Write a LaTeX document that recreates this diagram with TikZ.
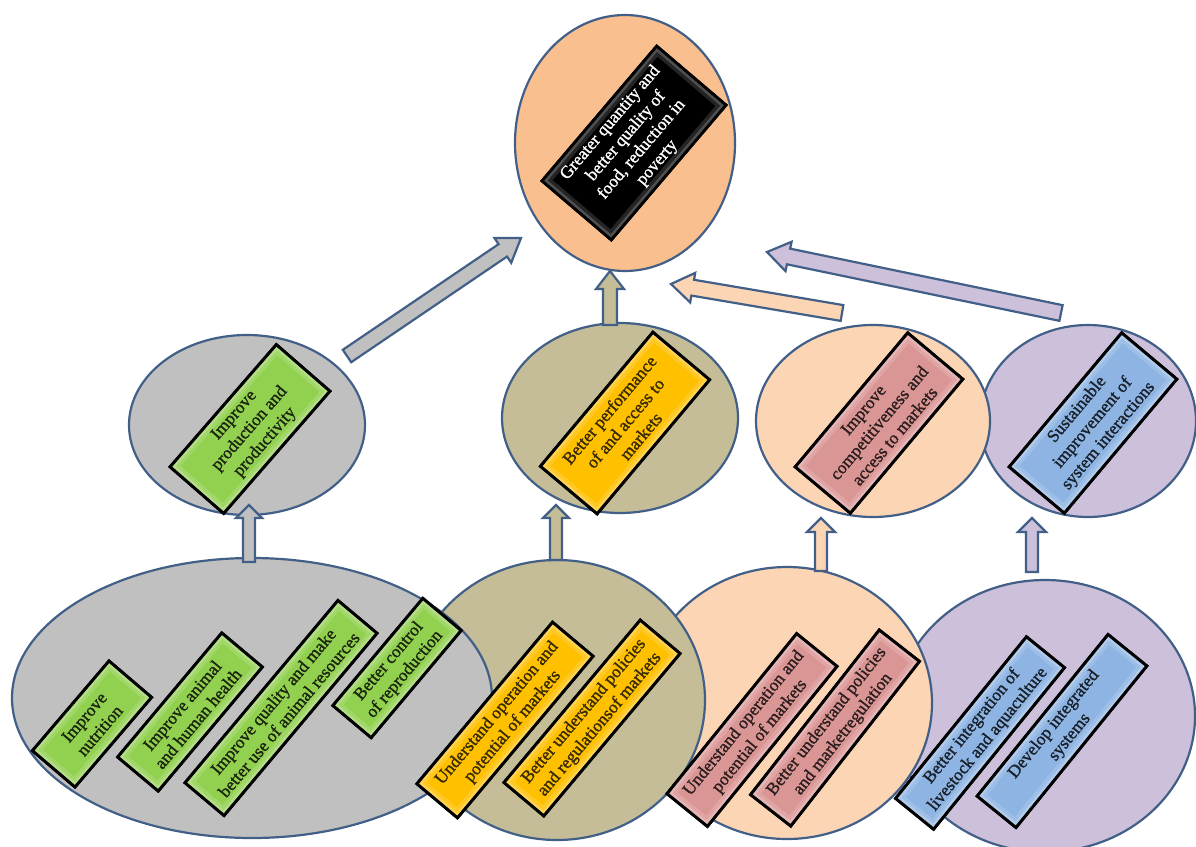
\documentclass[tikz,border=0pt]{standalone}
\usepackage{fontspec}
\setmainfont{Liberation Serif}
\newfontfamily\cardfont{Liberation Serif}[FakeBold=1.2]
\usetikzlibrary{shapes.geometric,calc}

\definecolor{edge}{RGB}{65,95,135}
\definecolor{greyfill}{RGB}{192,192,192}
\definecolor{khaki}{RGB}{196,189,151}
\definecolor{peachtop}{RGB}{250,191,143}
\definecolor{peach}{RGB}{252,213,181}
\definecolor{lav}{RGB}{204,192,218}
\definecolor{leaf}{RGB}{146,208,80}
\definecolor{gold}{RGB}{255,192,0}
\definecolor{rose}{RGB}{218,150,148}
\definecolor{sky}{RGB}{141,180,226}

% block arrow: #1 tail, #2 tip, #3 shaft half width, #4 head half width, #5 head length, #6 fill
\newcommand\blockarrow[6]{%
  \coordinate (hb) at ($(#2)!#5!(#1)$);
  \filldraw[flow, fill=#6]
    ($(#1)!#3!90:(#2)$) -- ($(hb)!#3!-90:(#1)$) -- ($(hb)!#4!-90:(#1)$) -- (#2)
    -- ($(hb)!#4!90:(#1)$) -- ($(hb)!#3!90:(#1)$) -- ($(#1)!#3!-90:(#2)$) -- cycle;
}

\begin{document}
\begin{tikzpicture}[x=1pt,y=-1pt,
  zone/.style={ellipse, draw=edge, line width=2.2pt, inner sep=0pt},
  card/.style={rectangle, draw=black, line width=2.8pt, inner sep=1pt, outer sep=0pt,
    align=center, font=\cardfont\fontsize{17.5}{20.5}\selectfont},
  leafcard/.style={card, fill=leaf, text=leaf!18!black},
  goldcard/.style={card, fill=gold, text=gold!22!black},
  rosecard/.style={card, fill=rose, text=rose!20!black},
  skycard/.style={card, fill=sky, text=sky!18!black},
  softbevel/.style={draw=white, line width=15pt, draw opacity=0.14},
  bevel/.style={draw=white, line width=8pt, draw opacity=0.2},
  rim/.style={draw=black, line width=2.8pt},
  flow/.style={draw=edge, line width=2.2pt, line join=miter}]
\useasboundingbox (0,0) rectangle (1196,846);

% lower row of fields, back to front
\node[zone, fill=lav, minimum width=300pt, minimum height=272pt] (bD) at (1045,716) {};
\node[zone, fill=peach, minimum width=290pt, minimum height=272pt] (bC) at (787,703) {};
\node[zone, fill=khaki, minimum width=296pt, minimum height=280pt] (bB) at (557,700) {};
\node[zone, fill=greyfill, minimum width=480pt, minimum height=280pt] (bA) at (252,698) {};

% middle row of fields
\node[zone, fill=greyfill, minimum width=236pt, minimum height=180pt] (mA) at (247,425) {};
\node[zone, fill=khaki, minimum width=236pt, minimum height=190pt] (mB) at (620,418) {};
\node[zone, fill=lav, minimum width=216pt, minimum height=192pt] (mD) at (1088,421) {};
\node[zone, fill=peach, minimum width=234pt, minimum height=192pt] (mC) at (873,421) {};

% overall goal
\node[zone, fill=peachtop, minimum width=220pt, minimum height=256pt] (goal) at (625,143) {};

% arrow ends
\coordinate (aA1) at (249,562); \coordinate (aA2) at (249,505);
\coordinate (aB1) at (556,560); \coordinate (aB2) at (556,505);
\coordinate (aC1) at (821,571); \coordinate (aC2) at (821,518);
\coordinate (aD1) at (1032,572); \coordinate (aD2) at (1032,518);
\coordinate (gA1) at (347,356); \coordinate (gA2) at (521,238);
\coordinate (gB1) at (610,325); \coordinate (gB2) at (610,271);
\coordinate (gC1) at (842,313); \coordinate (gC2) at (671,284);
\coordinate (gD1) at (1061,313); \coordinate (gD2) at (767,252);

% arrows from lower row to middle row
\blockarrow{aA1}{aA2}{6pt}{13pt}{13pt}{greyfill}
\blockarrow{aB1}{aB2}{6pt}{13pt}{13pt}{khaki}
\blockarrow{aC1}{aC2}{6pt}{14pt}{14pt}{peach}
\blockarrow{aD1}{aD2}{6pt}{14pt}{14pt}{lav}

% arrows from middle row to the goal
\blockarrow{gA1}{gA2}{7.5pt}{15pt}{22pt}{greyfill}
\blockarrow{gB1}{gB2}{7pt}{14pt}{18pt}{khaki}
\blockarrow{gC1}{gC2}{8pt}{15pt}{22pt}{peach}
\blockarrow{gD1}{gD2}{8pt}{15pt}{22pt}{lav}

% goal card
\node[card, fill=black, text=white, minimum width=177pt, minimum height=91pt, rotate=49.6] (t) at (634,143)
  {Greater quantity and\\better quality of\\food, reduction in\\poverty};

% middle cards
\node[leafcard, minimum width=162pt, minimum height=71pt, rotate=49] (m1) at (250,429)
  {Improve\\production and\\productivity};
\node[goldcard, minimum width=175pt, minimum height=74pt, rotate=50] (m2) at (625,423)
  {Better performance\\of and access to\\markets};
\node[rosecard, minimum width=175pt, minimum height=72pt, rotate=50] (m3) at (879,423)
  {Improve\\competitiveness and\\access to markets};
\node[skycard, minimum width=175pt, minimum height=72pt, rotate=50] (m4) at (1093,423)
  {Sustainable\\improvement of\\system interactions};

% lower cards
\node[leafcard, minimum width=118pt, minimum height=56pt, rotate=49.5] (b1) at (92,724)
  {Improve\\nutrition};
\node[leafcard, minimum width=162pt, minimum height=53pt, rotate=50] (b2) at (190,712)
  {Improve animal\\and human health};
\node[leafcard, minimum width=238pt, minimum height=51pt, rotate=50] (b3) at (281,708)
  {Improve quality and make\\better use of animal resources};
\node[leafcard, minimum width=140pt, minimum height=50pt, rotate=50] (b4) at (397,668)
  {Better control\\of reproduction};
\node[goldcard, minimum width=211pt, minimum height=53pt, rotate=50] (y1) at (505,720)
  {Understand operation and\\potential of markets};
\node[goldcard, minimum width=212pt, minimum height=52pt, rotate=50] (y2) at (592,718)
  {Better understand policies\\and regulationsof markets};
\node[rosecard, minimum width=206pt, minimum height=52pt, rotate=51] (p1) at (752,730)
  {Understand operation and\\potential of markets};
\node[rosecard, minimum width=209pt, minimum height=51pt, rotate=52] (p2) at (835,728)
  {Better understand policies\\and marketregulation};
\node[skycard, minimum width=208pt, minimum height=49pt, rotate=51] (s1) at (980,733)
  {Better integration of\\livestock and aquaculture};
\node[skycard, minimum width=208pt, minimum height=50pt, rotate=51] (s2) at (1062,731)
  {Develop integrated\\systems};

% bevelled inner rim of every card
\foreach \c in {t,m1,m2,m3,m4,b1,b2,b3,b4,y1,y2,p1,p2,s1,s2}{
  \begin{scope}
    \clip (\c.north west) -- (\c.north east) -- (\c.south east) -- (\c.south west) -- cycle;
    \path[softbevel] (\c.north west) -- (\c.north east) -- (\c.south east) -- (\c.south west) -- cycle;
    \path[bevel] (\c.north west) -- (\c.north east) -- (\c.south east) -- (\c.south west) -- cycle;
  \end{scope}
  \path[rim] (\c.north west) -- (\c.north east) -- (\c.south east) -- (\c.south west) -- cycle;
}
\end{tikzpicture}
\end{document}
